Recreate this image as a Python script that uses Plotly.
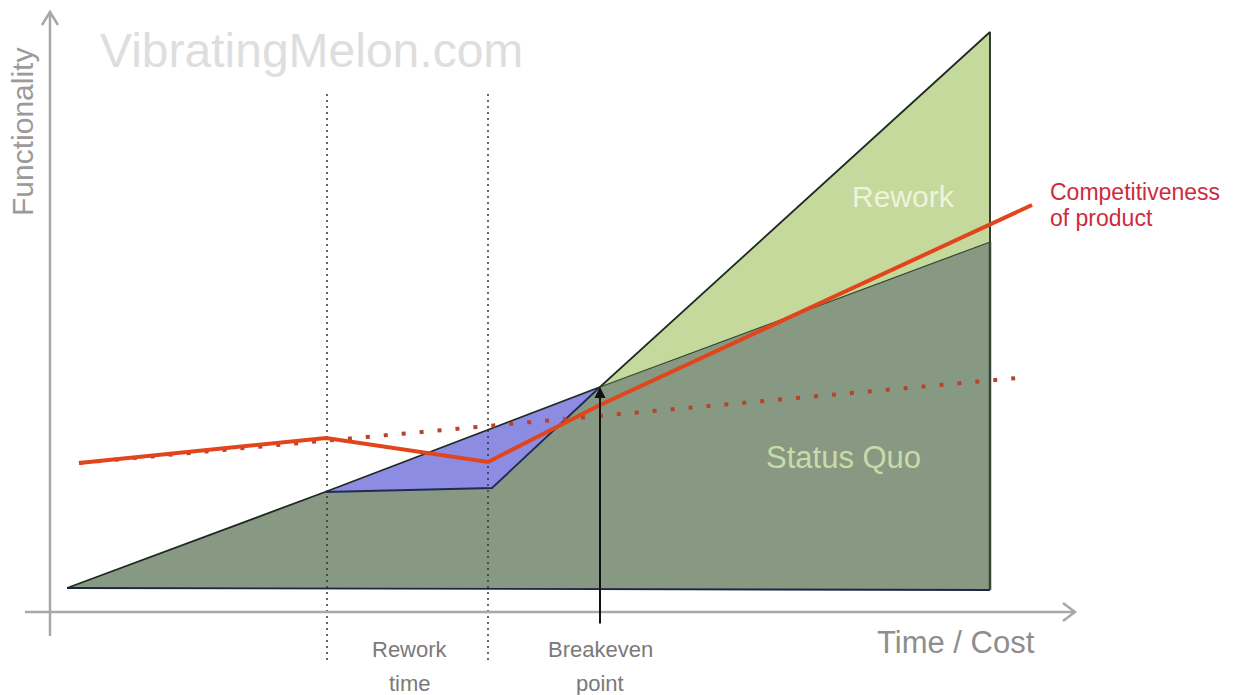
import plotly.graph_objects as go

# ---- data (time / cost on x, functionality on y) ----
sq_t = [17, 275, 442, 550, 940, 940]
sq_f = [24, 120, 124, 225, 370, 22]

rework_t = [550, 940, 940]
rework_f = [225, 580, 370]

blue_t = [275, 550, 442]
blue_f = [120, 225, 124]

comp_t = [29, 276, 438, 550, 982]
comp_f = [149, 174, 150, 207, 407]

trend_t = [29, 978]
trend_f = [149, 235]

marker_t = [277, 438]          # rework start / end
marker_f = [-48, 522]
breakeven_t = 550
breakeven_f = [-13, 225]

axis_x_end = 1025
axis_y_end = 600
axis_x_start = -25
axis_y_start = -24

FONT = "Liberation Sans, Arial, sans-serif"

fig = go.Figure()

def poly(t, f, color):
    fig.add_trace(go.Scatter(x=t + [t[0]], y=f + [f[0]], mode="lines", fill="toself",
                             fillcolor=color, line=dict(width=0), hoverinfo="skip"))

poly(sq_t, sq_f, "#879983")
poly(rework_t, rework_f, "#c6d99d")
poly(blue_t, blue_f, "#8b8ce2")

def line(t, f, color, width, dash="solid"):
    fig.add_trace(go.Scatter(x=t, y=f, mode="lines", line=dict(color=color, width=width, dash=dash),
                             hoverinfo="skip"))

# outlines
line([sq_t[0], sq_t[1], rework_t[0], rework_t[1], rework_t[1]],
     [sq_f[0], sq_f[1], rework_f[0], rework_f[1], sq_f[5]], "#1e2a22", 1.8)
line([sq_t[1], sq_t[2], sq_t[3]], [sq_f[1], sq_f[2], sq_f[3]], "#1f2a55", 1.8)
line([rework_t[0], rework_t[2]], [rework_f[0], rework_f[2]], "#33462f", 1.2)
line([sq_t[0], sq_t[5]], [sq_f[0], sq_f[5]], "#1c2548", 1.8)
line([sq_t[4], sq_t[5]], [sq_f[4], sq_f[5]], "#3a463a", 2.5)

# vertical dotted markers
for t in marker_t:
    line([t, t], marker_f, "#333333", 1.5, "2px,4px")

# competitiveness
line(trend_t, trend_f, "#b8432c", 4, "4px,14px")
line(comp_t, comp_f, "#e2441c", 4)

# axes
AX = "#a8a8a8"
line([axis_x_start, axis_x_end], [0, 0], AX, 2.5)
line([0, 0], [axis_y_start, axis_y_end], AX, 2.5)
line([axis_x_end - 12, axis_x_end, axis_x_end - 12], [9, 0, -9], AX, 2.5)
line([-8, 0, 8], [axis_y_end - 13, axis_y_end, axis_y_end - 13], AX, 2.5)

annotations = [
    dict(x=breakeven_t, y=breakeven_f[1], ax=breakeven_t, ay=breakeven_f[0], axref="x", ayref="y",
         xref="x", yref="y", showarrow=True, arrowhead=2, arrowsize=1.1, arrowwidth=2,
         arrowcolor="#111111", text=""),
]

def txt(t, f, s, size, color, xanchor="center", angle=0):
    annotations.append(dict(x=t, y=f, xref="x", yref="y", text=s, showarrow=False,
                            xanchor=xanchor, yanchor="middle", textangle=angle,
                            font=dict(family=FONT, size=size, color=color)))

txt(261, 562, "VibratingMelon.com", 48, "#dedede")
txt(-28, 480, "Functionality", 30, "#9a9a9a", angle=-90)
txt(853, 416, "Rework", 30, "#eef3dc")
txt(793, 155, "Status Quo", 31, "#c9dba8")
txt(998, 420, "Competitiveness", 23, "#cf2a3c", xanchor="left")
txt(998, 394, "of product", 23, "#cf2a3c", xanchor="left")
txt(906, -30, "Time / Cost", 31, "#8e8e8e")
txt(360, -37, "Rework", 22, "#7a7a7a")
txt(360, -71, "time", 22, "#7a7a7a")
txt(550, -37, "Breakeven", 22, "#7a7a7a")
txt(550, -71, "point", 22, "#7a7a7a")

fig.update_layout(
    width=1234, height=695,
    margin=dict(l=0, r=0, t=0, b=0),
    paper_bgcolor="white", plot_bgcolor="white",
    showlegend=False,
    xaxis=dict(range=[-50, 1184], visible=False, fixedrange=True),
    yaxis=dict(range=[-83, 612], visible=False, fixedrange=True),
    annotations=annotations,
)

fig.write_html("out.html", config={"displayModeBar": False},
               post_script="document.body.style.margin='0';document.body.style.overflow='hidden';")
